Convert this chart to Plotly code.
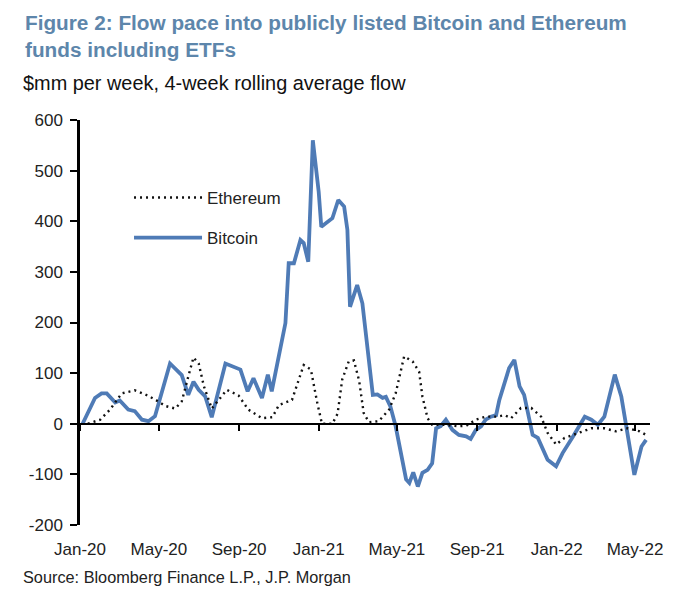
import plotly.graph_objects as go

# ---- data ----
btc_dates = [
    "2020-01-05", "2020-01-24", "2020-02-03", "2020-02-11", "2020-02-24", "2020-03-02",
    "2020-03-15", "2020-03-25", "2020-04-05", "2020-04-15", "2020-04-25", "2020-05-18",
    "2020-06-05", "2020-06-15", "2020-06-23", "2020-07-01", "2020-07-11", "2020-07-21",
    "2020-08-11", "2020-08-26", "2020-09-03", "2020-09-14", "2020-09-23", "2020-10-06",
    "2020-10-15", "2020-10-21", "2020-11-01", "2020-11-11", "2020-11-16", "2020-11-24",
    "2020-12-04", "2020-12-09", "2020-12-16", "2020-12-23", "2021-01-01", "2021-01-05",
    "2021-01-22", "2021-01-31", "2021-02-09", "2021-02-14", "2021-02-18", "2021-03-01",
    "2021-03-09", "2021-03-25", "2021-04-01", "2021-04-09", "2021-04-14", "2021-04-21",
    "2021-04-29", "2021-05-07", "2021-05-15", "2021-05-20", "2021-05-26", "2021-06-02",
    "2021-06-09", "2021-06-17", "2021-06-24", "2021-06-30", "2021-07-07", "2021-07-15",
    "2021-07-25", "2021-08-04", "2021-08-15", "2021-08-22", "2021-08-30", "2021-09-07",
    "2021-09-14", "2021-09-22", "2021-09-30", "2021-10-05", "2021-10-13", "2021-10-20",
    "2021-10-28", "2021-11-05", "2021-11-12", "2021-11-25", "2021-12-03", "2021-12-18",
    "2021-12-31", "2022-01-10", "2022-01-26", "2022-02-13", "2022-02-23", "2022-03-05",
    "2022-03-15", "2022-03-31", "2022-04-10", "2022-04-18", "2022-04-30", "2022-05-11",
    "2022-05-18",
]
btc_values = [
    0, 51, 60, 60, 42, 46,
    28, 25, 8, 5, 15, 119,
    96, 57, 83, 67, 54, 13,
    119, 112, 107, 64, 90, 51,
    97, 64, 140, 199, 317, 317,
    363, 357, 320, 560, 458, 389,
    406, 442, 429, 383, 231, 274,
    238, 57, 58, 51, 53, 34,
    -5, -58, -110, -117, -96, -124,
    -97, -91, -78, -9, -5, 8,
    -12, -22, -25, -30, -12, -5,
    8, 14, 17, 47, 80, 110,
    126, 74, 57, -22, -28, -71,
    -84, -58, -25, 14, 8, -2,
    14, 97, 54, -5, -101, -45,
    -32,
]

eth_dates = [
    "2020-01-13", "2020-02-01", "2020-02-16", "2020-03-05", "2020-03-25", "2020-04-10",
    "2020-04-25", "2020-05-11", "2020-05-26", "2020-06-05", "2020-06-15", "2020-06-23",
    "2020-07-01", "2020-07-09", "2020-07-21", "2020-08-13", "2020-08-31", "2020-09-15",
    "2020-10-06", "2020-10-22", "2020-11-01", "2020-11-21", "2020-12-09", "2020-12-20",
    "2020-12-30", "2021-01-06", "2021-01-22", "2021-01-30", "2021-02-06", "2021-02-16",
    "2021-02-24", "2021-03-04", "2021-03-11", "2021-03-19", "2021-04-03", "2021-04-19",
    "2021-04-29", "2021-05-07", "2021-05-12", "2021-05-25", "2021-06-04", "2021-06-09",
    "2021-06-17", "2021-06-24", "2021-07-12", "2021-08-02", "2021-08-15", "2021-08-30",
    "2021-09-14", "2021-10-02", "2021-10-13", "2021-10-23", "2021-11-07", "2021-11-23",
    "2021-12-08", "2021-12-18", "2021-12-31", "2022-01-13", "2022-02-02", "2022-02-23",
    "2022-03-15", "2022-04-02", "2022-04-20", "2022-05-08", "2022-05-18",
]
eth_values = [
    0, 8, 28, 60, 66, 58,
    48, 35, 30, 44, 93, 131,
    119, 74, 30, 67, 56, 28,
    11, 13, 37, 47, 116, 107,
    40, 0, 0, 20, 87, 123,
    125, 85, 21, 3, 5, 28,
    60, 103, 133, 123, 103, 54,
    11, -2, -2, -5, -4, 8,
    14, 14, 17, 11, 31, 31,
    14, -18, -41, -28, -18, -9,
    -9, -15, -9, -15, -22,
]

tick_dates = ["2020-01-01", "2020-05-01", "2020-09-01", "2021-01-01",
              "2021-05-01", "2021-09-01", "2022-01-01", "2022-05-01"]
tick_labels = ["Jan-20", "May-20", "Sep-20", "Jan-21",
               "May-21", "Sep-21", "Jan-22", "May-22"]
y_tick_values = [-200, -100, 0, 100, 200, 300, 400, 500, 600]
y_tick_labels = ["-200", "-100", "0", "100", "200", "300", "400", "500", "600"]

title_text = "Figure 2: Flow pace into publicly listed Bitcoin and Ethereum<br>funds including ETFs"
subtitle_text = "$mm per week, 4-week rolling average flow"
source_text = "Source: Bloomberg Finance L.P., J.P. Morgan"

FONT = "Liberation Sans, Arial, sans-serif"

fig = go.Figure()
fig.add_trace(go.Scatter(
    x=eth_dates, y=eth_values, name="Ethereum", mode="lines", legendgroup="eth",
    line=dict(color="#111111", width=2.4, dash="2px,4px"),
    xaxis="x2",
))
fig.add_trace(go.Scatter(
    x=btc_dates, y=btc_values, name="Bitcoin", mode="lines", legendgroup="btc",
    line=dict(color="#4f7bb6", width=3.8),
))

x_range = ["2020-01-01", "2022-05-24"]

# page body has an 8px margin, so the figure is 8px smaller than the window
fig.update_layout(
    width=667, height=585,
    margin=dict(l=72, r=25, t=112, b=68, autoexpand=False),
    paper_bgcolor="white", plot_bgcolor="white",
    font=dict(family=FONT, size=17, color="#222222"),
    showlegend=True,
    legend=dict(
        x=0.086, y=0.852, xanchor="left", yanchor="top",
        bgcolor="rgba(0,0,0,0)", font=dict(size=17, color="#222222"),
        itemwidth=68, tracegroupgap=15,
    ),
    xaxis=dict(
        type="date", range=x_range, automargin=False,
        tickvals=tick_dates, ticktext=tick_labels,
        showline=False, ticks="", showgrid=False, zeroline=False,
        tickfont=dict(size=17), ticklabelstandoff=12,
    ),
    xaxis2=dict(
        type="date", range=x_range, matches="x", overlaying="x", automargin=False,
        anchor="free", position=0.25, side="bottom",
        tickvals=tick_dates, showticklabels=False,
        showline=True, linecolor="black", linewidth=2,
        ticks="outside", ticklen=6, tickwidth=2, tickcolor="black",
        showgrid=False, zeroline=False,
    ),
    yaxis=dict(
        range=[-200, 600], automargin=False,
        tickvals=y_tick_values, ticktext=y_tick_labels,
        showline=True, linecolor="black", linewidth=2.5,
        ticks="outside", ticklen=7, tickwidth=2, tickcolor="black",
        showgrid=False, zeroline=False, ticklabelstandoff=4,
        tickfont=dict(size=17),
    ),
    annotations=[
        dict(text="<b>" + title_text + "</b>", xref="paper", yref="paper",
             x=-0.1, y=1.273, xanchor="left", yanchor="top", align="left",
             showarrow=False, font=dict(family=FONT, size=20.75, color="#5d86ab")),
        dict(text=subtitle_text, xref="paper", yref="paper",
             x=-0.1035, y=1.091, xanchor="left", yanchor="middle", align="left",
             showarrow=False, font=dict(family=FONT, size=19.9, color="#111111")),
        dict(text=source_text, xref="paper", yref="paper",
             x=-0.1035, y=-0.128, xanchor="left", yanchor="middle", align="left",
             showarrow=False, font=dict(family=FONT, size=16.3, color="#222222")),
    ],
)

fig.write_html("out.html")
